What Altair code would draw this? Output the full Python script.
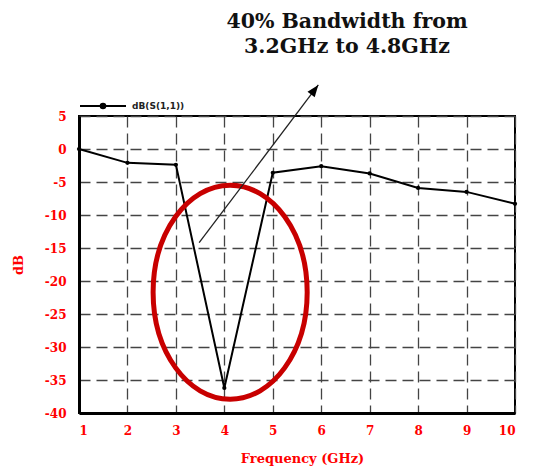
import altair as alt
import pandas as pd

# ---- data ----
freq = [1, 2, 3, 4, 5, 6, 7, 8, 9, 10]
s11_db = [0.0, -2.1, -2.4, -36.2, -3.6, -2.6, -3.7, -5.9, -6.5, -8.3]
series_name = "dB(S(1,1))"
x_ticks = [1, 2, 3, 4, 5, 6, 7, 8, 9, 10]
y_ticks = [-40, -35, -30, -25, -20, -15, -10, -5, 0, 5]
title_lines = ["40% Bandwidth from", "3.2GHz to 4.8GHz"]

# annotation anchors (data coordinates)
ellipse_x = [4.12]
ellipse_y = [-21.7]
arrow_x = [3.48, 5.94]
arrow_y = [-14.2, 9.7]
arrow_tip_x = [5.94]
arrow_tip_y = [9.7]

df = pd.DataFrame({"freq": freq, "db": s11_db, "series": series_name})
ell_df = pd.DataFrame({"freq": ellipse_x, "db": ellipse_y})
arr_df = pd.DataFrame({"freq": arrow_x, "db": arrow_y})
tip_df = pd.DataFrame({"freq": arrow_tip_x, "db": arrow_tip_y})

xs = alt.Scale(domain=[1, 10], nice=False, zero=False)
ys = alt.Scale(domain=[-40, 5], nice=False, zero=False)

x = alt.X("freq:Q", scale=xs,
          axis=alt.Axis(values=x_ticks, title="Frequency (GHz)",
                        labelExpr="'' + datum.value",
                        titleX=223, titleY=45, titleBaseline="middle",
                        labelPadding=12))
y = alt.Y("db:Q", scale=ys,
          axis=alt.Axis(values=y_ticks, title="dB",
                        labelExpr="'' + datum.value",
                        titleX=-61, titleY=148.5, titleAngle=270,
                        titleBaseline="middle", titleAlign="center",
                        labelPadding=13))

line = alt.Chart(df).mark_line(strokeWidth=2).encode(
    x=x, y=y,
    color=alt.Color("series:N",
                    scale=alt.Scale(domain=[series_name], range=["black"]),
                    legend=alt.Legend(
                        title=None, orient="none", legendX=0, legendY=-34,
                        padding=0,
                        symbolType="M-1,0H1M0.1,0A0.1,0.1 0 1,1 -0.1,0A0.1,0.1 0 1,1 0.1,0Z",
                        symbolSize=2116, symbolStrokeWidth=2,
                        symbolStrokeColor="black", symbolFillColor="black",
                        labelFont="DejaVu Sans", labelFontWeight="bold",
                        labelFontSize=9, labelColor="#222", labelOffset=5)))

pts = alt.Chart(df).mark_point(filled=True, size=18, color="black", opacity=1).encode(x=x, y=y)

ellipse = alt.Chart(ell_df).mark_point(
    shape="M-0.72,0A0.72,1 0 1,0 0.72,0A0.72,1 0 1,0 -0.72,0Z",
    size=45796, filled=False, stroke="#c80000", strokeWidth=5,
    opacity=1, clip=False).encode(x=x, y=y)

arrow = alt.Chart(arr_df).mark_line(color="#222", strokeWidth=1.3, clip=False).encode(x=x, y=y)
head = alt.Chart(tip_df).mark_point(
    shape="M0,0L0.45,1.2L-0.45,1.2Z", size=400, angle=37,
    filled=True, color="black", opacity=1, clip=False).encode(x=x, y=y)

chart = alt.layer(line, pts, ellipse, arrow, head).properties(
    width=436, height=297,
    autosize=alt.AutoSizeParams(type="none"),
    padding={"left": 71, "top": 108, "right": 8, "bottom": 53},
    title=alt.TitleParams(text=title_lines, font="DejaVu Serif", fontSize=20.5,
                          fontWeight="bold", color="#111", anchor="middle",
                          dx=50, lineHeight=25, offset=25),
    background="white",
).configure_view(stroke="black", strokeWidth=2).configure_axis(
    domainColor="black", domainWidth=3, grid=True, gridColor="#444",
    gridDash=[11, 6], gridWidth=1.3, gridOpacity=1, ticks=False, tickSize=0,
    labelColor="red", labelFont="DejaVu Serif", labelFontWeight="bold",
    labelFontSize=12, titleColor="red", titleFont="DejaVu Serif",
    titleFontWeight="bold", titleFontSize=13,
)

chart.save("out.html", embed_options={"renderer": "svg", "actions": False})
